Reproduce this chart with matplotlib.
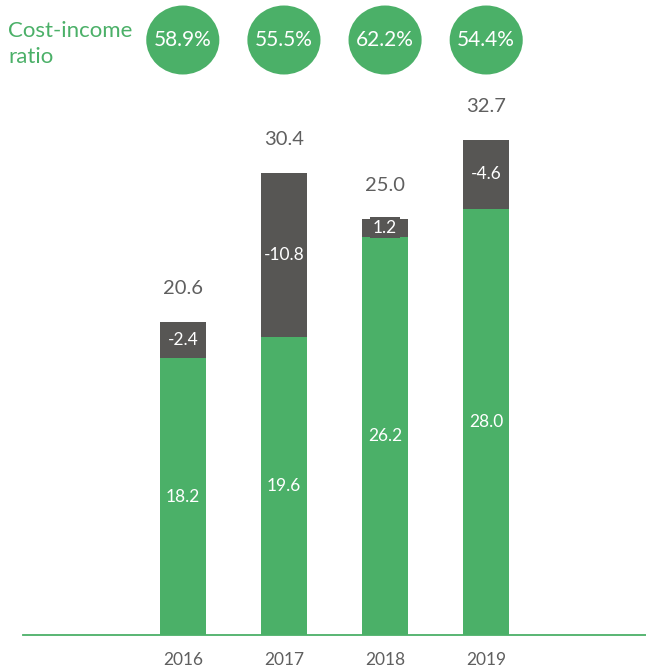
import matplotlib
matplotlib.use("Agg")
import matplotlib.pyplot as plt
from matplotlib.patches import Ellipse
from matplotlib.transforms import blended_transform_factory

years = ["2016", "2017", "2018", "2019"]
green_vals = [18.2, 19.6, 26.2, 28.0]
gray_labels = [-2.4, -10.8, 1.2, -4.6]
totals = [20.6, 30.4, 25.0, 32.7]
cost_income = ["58.9%", "55.5%", "62.2%", "54.4%"]

GREEN = "#4BB068"
DARK = "#575654"
TEXTGRAY = "#5f5f5f"

plt.rcParams['font.family'] = ['Lato', 'DejaVu Sans']
plt.rcParams['font.weight'] = 'normal'

fig = plt.figure(figsize=(6.46, 6.72), dpi=100)
ax = fig.add_axes([23/646, 37/672, 1 - 23/646, (635 - 100)/672])

x = list(range(len(years)))
w = 0.455
gray_h = [abs(v) for v in gray_labels]
ax.bar(x, green_vals, width=w, color=GREEN, zorder=2)
ax.bar(x, gray_h, width=w, bottom=green_vals, color=DARK, zorder=2)

for i in x:
    ax.text(i, green_vals[i] / 2, f"{green_vals[i]:.1f}", ha='center', va='center',
            color='white', fontsize=12.5)
    lbl = f"{gray_labels[i]:.1f}"
    ax.text(i, green_vals[i] + gray_h[i] / 2, lbl, ha='center', va='center',
            color='white', fontsize=12.5,
            bbox=dict(boxstyle='square,pad=0.15', fc=DARK, ec='none'))
    top = green_vals[i] + gray_h[i]
    ax.annotate(f"{totals[i]:.1f}", (i, top), xytext=(0, 24), textcoords='offset points',
                ha='center', va='center', color=TEXTGRAY, fontsize=14.5)

ax.set_xlim(-1.58, 4.58)
ax.set_ylim(0, 35.2)
for s in ['top', 'right', 'left']:
    ax.spines[s].set_visible(False)
ax.spines['bottom'].set_color(GREEN)
ax.spines['bottom'].set_linewidth(1.3)
ax.set_yticks([])
ax.set_xticks(x)
ax.set_xticklabels(years, color=TEXTGRAY, fontsize=12.5)
ax.tick_params(axis='x', length=0, pad=12)

# cost-income bubbles
tr = blended_transform_factory(ax.transData, fig.transFigure)
cy = 1 - 40/672
for i in x:
    e = Ellipse((i, cy), width=73/101, height=69/672, transform=tr,
                facecolor=GREEN, edgecolor='none', clip_on=False)
    fig.add_artist(e)
    fig.text(0, 0, cost_income[i], transform=tr, color='white', fontsize=15,
             ha='center', va='center').set_position((i, cy))

fig.text(8/646, 1 - 37/672, "Cost-income", color=GREEN, fontsize=16, ha='left', va='baseline')
fig.text(8/646, 1 - 63/672, "ratio", color=GREEN, fontsize=16, ha='left', va='baseline')

fig.savefig("out.png", dpi=100)
